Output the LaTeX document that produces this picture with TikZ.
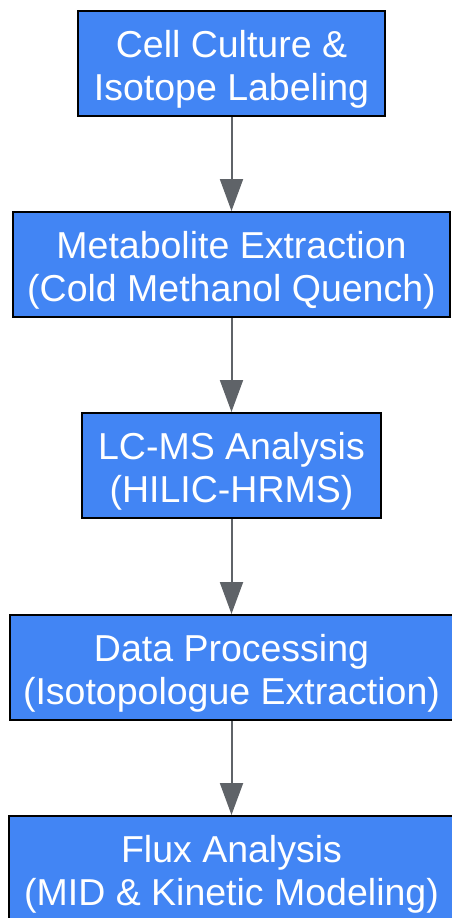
\documentclass[tikz,border=0pt]{standalone}
\usepackage{fontspec}
\setmainfont{Liberation Sans}
\usetikzlibrary{arrows.meta}
\definecolor{boxblue}{HTML}{4285F4}
\definecolor{arrgray}{HTML}{5F6368}
\tikzset{
  stepbox/.style={draw=black, line width=2pt, fill=boxblue, inner sep=0pt,
    minimum height=105pt},
  steptext/.style={text=white, font=\fontsize{37.5}{43}\selectfont,
    align=center, inner sep=0pt},
  flowarrow/.style={draw=arrgray, line width=2pt,
    -{Triangle[width=23pt,length=32pt]}}
}
\begin{document}
\begin{tikzpicture}[x=1pt,y=-1pt]
\useasboundingbox (0,0) rectangle (451,918);
\node[stepbox, minimum width=307pt] (b1) at (231.5,63.5) {};
\node[stepbox, minimum width=437pt] (b2) at (231.5,264.5) {};
\node[stepbox, minimum width=299pt] (b3) at (231.5,465.5) {};
\node[stepbox, minimum width=443pt] (b4) at (231.5,667.5) {};
\node[stepbox, minimum width=445pt] (b5) at (231.5,868.5) {};
\node[steptext] (t1) at ([yshift=-5.5pt]b1.center) {Cell Culture \&\\Isotope Labeling};
\node[steptext] (t2) at ([yshift=-5.5pt]b2.center) {Metabolite Extraction\\(Cold Methanol Quench)};
\node[steptext] (t3) at ([yshift=-5.5pt]b3.center) {LC-MS Analysis\\(HILIC-HRMS)};
\node[steptext] (t4) at ([yshift=-5.5pt]b4.center) {Data Processing\\(Isotopologue Extraction)};
\node[steptext] (t5) at ([yshift=-5.5pt]b5.center) {Flux Analysis\\(MID \& Kinetic Modeling)};
\draw[flowarrow] (b1.south) -- (b2.north);
\draw[flowarrow] (b2.south) -- (b3.north);
\draw[flowarrow] (b3.south) -- (b4.north);
\draw[flowarrow] (b4.south) -- (b5.north);
\end{tikzpicture}
\end{document}
